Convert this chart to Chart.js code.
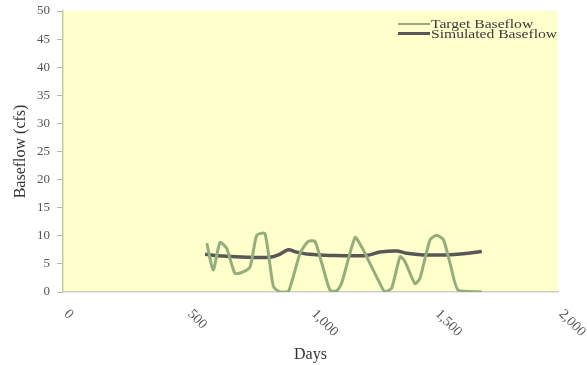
<!DOCTYPE html>
<html>
<head>
<meta charset="utf-8">
<title>Baseflow</title>
<script src="https://cdn.jsdelivr.net/npm/chart.js@4"></script>
<style>
  html, body { margin: 0; padding: 0; background: #fff; }
  #wrap { width: 587px; height: 365px; }
</style>
</head>
<body>
<div id="wrap"><canvas id="chartBaseflow" width="587" height="365"></canvas></div>
<script>
// target baseflow, roughly monthly
const targetDays = [581, 607, 634, 661, 695, 728, 756, 783, 816, 850, 877, 910, 958, 991, 1018, 1045,
    1079, 1106, 1126, 1180, 1207, 1240, 1274, 1301, 1328, 1362, 1382, 1422, 1442, 1483, 1510, 1537,
    1564, 1597, 1693];
const targetCfs = [8.7, 3.9, 8.8, 7.8, 3.3, 3.6, 4.5, 10.1, 10.4, 1.0, 0, 0, 6.9, 9.0, 9.0, 5.2,
    0.3, 0.2, 1.6, 9.7, 8.0, 5.1, 2.1, 0, 0.7, 6.3, 5.4, 1.5, 2.4, 9.3, 10.1, 9.3,
    5.1, 0.3, 0];

// simulated baseflow
const simDays = [574, 648, 742, 836, 870, 910, 944, 998, 1079, 1227, 1281, 1348, 1388, 1456, 1550, 1617, 1692];
const simCfs = [6.7, 6.4, 6.2, 6.2, 6.6, 7.5, 7.1, 6.7, 6.5, 6.5, 7.1, 7.3, 6.9, 6.6, 6.6, 6.8, 7.2];

const dayTicks = [0, 500, 1000, 1500, 2000];
const serif = '"Liberation Serif", "Times New Roman", serif';

const toPoints = (xs, ys) => xs.map((x, i) => ({ x, y: ys[i] }));

const plotBackground = {
    id: 'plotBackground',
    beforeDraw(chart, _args, options) {
        const { ctx, chartArea } = chart;
        ctx.save();
        ctx.fillStyle = options.color;
        ctx.fillRect(chartArea.left, chartArea.top, chartArea.right - chartArea.left, chartArea.bottom - chartArea.top);
        ctx.restore();
    },
};

// x labels slanted downwards to the right
const slantedDayLabels = {
    id: 'slantedDayLabels',
    afterDraw(chart, _args, options) {
        const { ctx, chartArea } = chart;
        const xScale = chart.scales.x;
        ctx.save();
        ctx.font = `14px ${serif}`;
        ctx.fillStyle = '#555';
        ctx.textAlign = 'left';
        ctx.textBaseline = 'middle';
        options.values.forEach((value) => {
            const px = xScale.getPixelForValue(value);
            ctx.save();
            ctx.translate(px + 3, chartArea.bottom + 20);
            ctx.rotate(Math.PI / 4);
            ctx.fillText(value.toLocaleString('en-US'), 0, 0);
            ctx.restore();
        });
        ctx.restore();
    },
};

const plotLegend = {
    id: 'plotLegend',
    afterDatasetsDraw(chart, _args, options) {
        const { ctx } = chart;
        ctx.save();
        ctx.font = `13px ${serif}`;
        ctx.textAlign = 'left';
        ctx.textBaseline = 'middle';
        chart.data.datasets.forEach((ds, i) => {
            const y = options.y + i * options.rowGap;
            ctx.strokeStyle = ds.borderColor;
            ctx.lineWidth = options.lineWidths[i];
            ctx.beginPath();
            ctx.moveTo(options.x, y);
            ctx.lineTo(options.x + options.lineLength, y);
            ctx.stroke();
            ctx.save();
            ctx.translate(options.x + options.lineLength + 1, y + 1);
            ctx.scale(options.stretch, 1);
            ctx.fillStyle = '#3a3a3a';
            ctx.fillText(ds.label, 0, 0);
            ctx.restore();
        });
        ctx.restore();
    },
};

new Chart(document.getElementById('chartBaseflow'), {
    type: 'line',
    data: {
        datasets: [
            {
                label: 'Target Baseflow',
                data: toPoints(targetDays, targetCfs),
                borderColor: '#93ae7a',
                borderWidth: 3,
                pointRadius: 0,
                tension: 0.2,
            },
            {
                label: 'Simulated Baseflow',
                data: toPoints(simDays, simCfs),
                borderColor: '#575757',
                borderWidth: 3.5,
                pointRadius: 0,
                tension: 0.3,
            },
        ],
    },
    plugins: [plotBackground, slantedDayLabels, plotLegend],
    options: {
        responsive: false,
        animation: false,
        devicePixelRatio: 1,
        layout: { padding: { top: 11, right: 29, bottom: 0, left: 0 } },
        plugins: {
            legend: { display: false },
            tooltip: { enabled: false },
            plotBackground: { color: '#ffffcc' },
            slantedDayLabels: { values: dayTicks },
            plotLegend: { x: 398, y: 24, rowGap: 9.5, lineLength: 32, lineWidths: [2, 3], stretch: 1.2 },
        },
        scales: {
            x: {
                type: 'linear',
                min: 0,
                max: 2000,
                ticks: { display: false, stepSize: 500 },
                grid: { display: false },
                border: { display: true, color: '#cfcfcf', width: 1.5 },
                title: {
                    display: true,
                    text: 'Days',
                    color: '#333',
                    font: { family: serif, size: 16 },
                    padding: { top: 0, bottom: 1 },
                },
                afterFit: (scale) => { scale.height = 73; },
            },
            y: {
                min: 0,
                max: 50,
                ticks: {
                    stepSize: 5,
                    padding: 7,
                    color: '#555',
                    font: { family: serif, size: 13 },
                },
                grid: { display: true, drawOnChartArea: false, drawTicks: true, tickLength: 6, color: '#b5b5b5' },
                border: { display: true, color: '#c9c9a4', width: 1.5 },
                title: {
                    display: true,
                    text: 'Baseflow (cfs)',
                    color: '#333',
                    font: { family: serif, size: 16 },
                    padding: { top: 11, bottom: 0 },
                },
                afterFit: (scale) => {
                    scale.width = 63;
                    scale.paddingTop = 2;
                    scale.paddingBottom = 2;
                },
            },
        },
    },
});
</script>
</body>
</html>
